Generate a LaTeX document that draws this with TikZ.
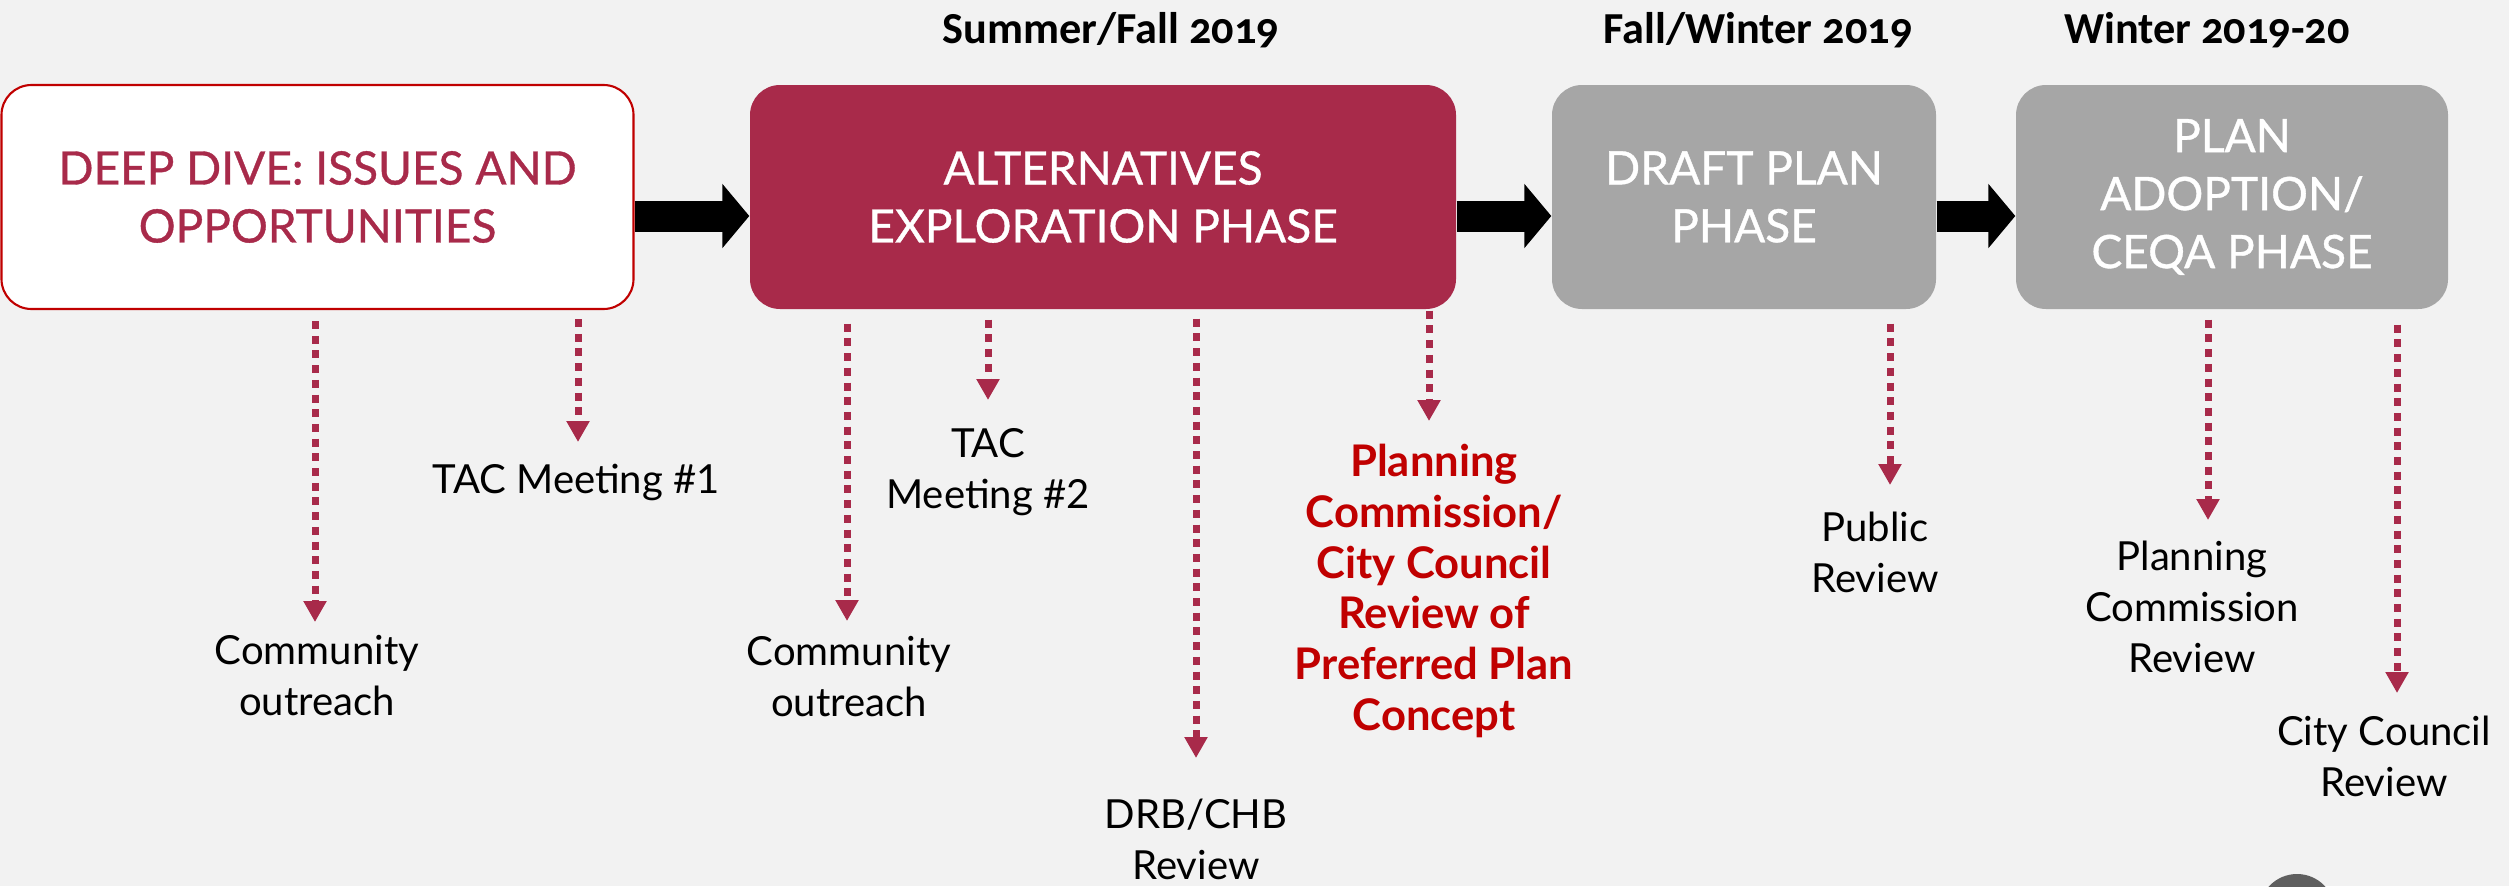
\documentclass[tikz,border=0pt]{standalone}
\usepackage{fontspec}
\setmainfont{Lato}
\newfontfamily\phasefont{Lato}[FakeBold=0.8]
\newfontfamily\datefont{Carlito}[Numbers=OldStyle]
\usetikzlibrary{arrows.meta, positioning, calc}
\definecolor{planred}{RGB}{168, 42, 74}
\definecolor{reviewred}{RGB}{192, 0, 0}
\definecolor{phasegray}{RGB}{166, 166, 166}
\definecolor{slidebg}{RGB}{242, 242, 242}
\definecolor{buttongray}{RGB}{95, 95, 95}

\begin{document}
\begin{tikzpicture}[
  phasebox/.style={rounded corners=0.3cm, minimum height=2.24cm, align=center, inner sep=0pt, font=\phasefont\fontsize{13.1}{16.5}\selectfont},
  datelabel/.style={anchor=base, font=\datefont\bfseries\fontsize{12.6}{14}\selectfont},
  meetlabel/.style={anchor=north, align=center, inner sep=0pt, font=\fontsize{11.4}{14.5}\selectfont},
  dotarrow/.style={draw=planred, line width=0.07cm, dash pattern=on 0.08cm off 0.067cm, -{Triangle[length=0.21cm, width=0.22cm]}},
  blockarrow/.style={line width=0.31cm, -{Triangle[length=0.27cm, width=0.63cm]}}
]
  \useasboundingbox (0,0) rectangle (25.09,-8.86);
  \fill[slidebg] (0,0) rectangle (25.09,-8.86);

  % Timing of the phases
  \node[datelabel] (summer) at (11.11,-0.43) {Summer/Fall 2019};
  \node[datelabel] (fall) at (17.58,-0.43) {Fall/Winter 2019};
  \node[datelabel] (winter) at (22.07,-0.43) {Winter 2019-20};

  % Phases
  \node[phasebox, draw=reviewred, line width=0.6pt, fill=white, text=planred, minimum width=6.32cm] (deep) at (3.175,-1.97) {DEEP DIVE: ISSUES AND\\OPPORTUNITIES};
  \node[phasebox, fill=planred, text=white, minimum width=7.06cm] (alt) at (11.03,-1.97) {ALTERNATIVES\\EXPLORATION PHASE};
  \node[phasebox, fill=phasegray, text=white, minimum width=3.84cm] (draft) at (17.44,-1.97) {DRAFT PLAN\\PHASE};
  \node[phasebox, fill=phasegray, text=white, minimum width=4.32cm] (adopt) at (22.32,-1.97) {PLAN\\ADOPTION/\\CEQA PHASE};

  \draw[blockarrow] ([yshift=-0.19cm]deep.east) -- ([yshift=-0.19cm]alt.west);
  \draw[blockarrow] ([yshift=-0.19cm]alt.east) -- ([yshift=-0.19cm]draft.west);
  \draw[blockarrow] ([yshift=-0.19cm]draft.east) -- ([yshift=-0.19cm]adopt.west);

  % Meetings and reviews
  \node[meetlabel] (out1) at (3.17,-6.35) {Community\\outreach};
  \node[meetlabel] (tac1) at (5.76,-4.63) {TAC Meeting \#1};
  \node[meetlabel] (out2) at (8.49,-6.36) {Community\\outreach};
  \node[meetlabel] (tac2) at (9.88,-4.28) {TAC\\Meeting \#2};
  \node[meetlabel] (drb) at (11.96,-7.98) {DRB/CHB\\Review};
  \node[meetlabel, text=reviewred, font=\bfseries\fontsize{12.4}{14.5}\selectfont] (pccc) at (14.34,-4.43) {Planning\\Commission/\\City Council\\Review of\\Preferred Plan\\Concept};
  \node[meetlabel] (public) at (18.75,-5.11) {Public\\Review};
  \node[meetlabel] (pcrev) at (21.92,-5.40) {Planning\\Commission\\Review};
  \node[meetlabel] (ccrev) at (23.84,-7.15) {City Council\\Review};

  \draw[dotarrow] ($(deep.south -| out1.north)+(-0.02,-0.11)$) -- ($(out1.north)+(-0.02,0.13)$);
  \draw[dotarrow] ($(deep.south -| tac1.north)+(0.02,-0.09)$) -- ($(tac1.north)+(0.02,0.21)$);
  \draw[dotarrow] ($(alt.south -| out2.north)+(-0.02,-0.14)$) -- ($(out2.north)+(-0.02,0.15)$);
  \draw[dotarrow] ($(alt.south -| tac2.north)+(0,-0.1)$) -- ($(tac2.north)+(0,0.28)$);
  \draw[dotarrow] ($(alt.south -| drb.north)+(0,-0.09)$) -- ($(drb.north)+(0,0.40)$);
  \draw[dotarrow] ($(alt.south -| pccc.north)+(-0.05,-0.01)$) -- ($(pccc.north)+(-0.05,0.22)$);
  \draw[dotarrow] ($(draft.south -| public.north)+(0.15,-0.14)$) -- ($(public.north)+(0.15,0.26)$);
  \draw[dotarrow] ($(adopt.south -| pcrev.north)+(0.16,-0.1)$) -- ($(pcrev.north)+(0.16,0.20)$);
  \draw[dotarrow] ($(adopt.south -| ccrev.north)+(0.13,-0.15)$) -- ($(ccrev.north)+(0.13,0.22)$);

  % Slide button at the lower edge
  \begin{scope}
    \clip (0,0) rectangle (25.09,-8.86);
    \fill[buttongray] (22.97,-9.12) circle (0.38);
  \end{scope}
\end{tikzpicture}
\end{document}
